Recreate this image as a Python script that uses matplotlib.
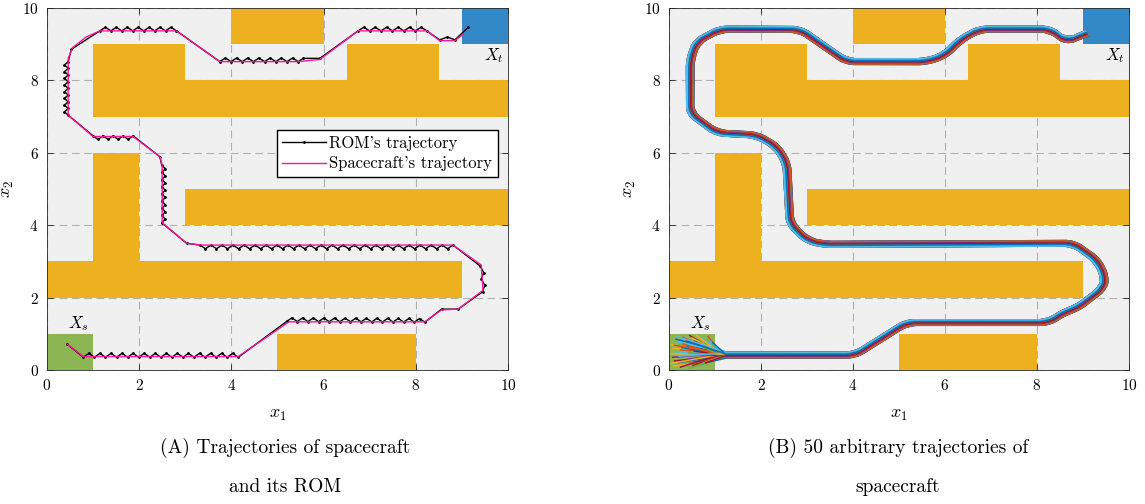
import numpy as np
import matplotlib
matplotlib.use("Agg")
import matplotlib.pyplot as plt
from matplotlib.patches import Rectangle

plt.rcParams['font.family'] = 'serif'
plt.rcParams['font.serif'] = ['cmr10']
plt.rcParams['mathtext.fontset'] = 'cm'
plt.rcParams['axes.formatter.use_mathtext'] = True

# obstacles: x0, x1, y0, y1
obs_x0 = [4, 1, 3, 6.5, 1, 0, 3, 5]
obs_x1 = [6, 3, 10, 8.5, 2, 9, 10, 8]
obs_y0 = [9, 7, 7, 8, 2, 2, 4, 0]
obs_y1 = [10, 9, 8, 9, 6, 3, 5, 1]

# spacecraft trajectory (left panel)
sc_x = [0.43, 0.79, 4.15, 5.25, 8.20, 8.56, 8.92, 9.46, 9.42, 8.81, 3.35, 3.03,
        2.50, 2.50, 2.45, 1.87, 1.00, 0.46, 0.46, 0.55, 0.85, 1.15, 2.81, 3.75,
        5.45, 5.92, 6.75, 8.24, 8.52, 8.85, 9.03]
sc_y = [0.72, 0.37, 0.37, 1.33, 1.33, 1.66, 1.68, 2.20, 2.90, 3.45, 3.45, 3.50,
        4.07, 5.66, 5.89, 6.45, 6.45, 7.04, 8.60, 8.90, 9.20, 9.37, 9.37, 8.52,
        8.52, 8.58, 9.37, 9.37, 9.10, 9.10, 9.28]

# ROM trajectory legs: start, number of teeth, tooth offset
rom_x0 = [0.43, 0.79, 4.15, 5.20, 8.20, 8.56, 8.92, 9.45, 9.40, 8.81, 3.32, 3.03, 2.49, 2.49, 2.45, 1.87, 1.00, 0.46, 0.46, 0.53, 1.15, 2.81, 3.75, 5.45, 5.56, 5.92, 6.75, 8.24, 8.52, 8.85]
rom_y0 = [0.72, 0.35, 0.35, 1.34, 1.32, 1.68, 1.68, 2.16, 2.87, 3.45, 3.45, 3.50, 4.07, 5.66, 5.89, 6.47, 6.47, 7.04, 8.52, 8.86, 9.37, 9.37, 8.52, 8.52, 8.61, 8.61, 9.37, 9.37, 9.12, 9.12]
rom_teeth = [0, 14, 0, 13, 0, 0, 0, 2, 0, 23, 0, 0, 8, 0, 0, 4, 0, 8, 0, 0, 7, 0, 7, 0, 0, 0, 6, 0, 1, 0]
rom_dx = [0, 0, 0, 0, 0, 0, 0, 0.06, 0, 0, 0, 0, 0.08, 0, 0, 0, 0, -0.08, 0, 0, 0, 0, 0, 0, 0, 0, 0, 0, 0, 0]
rom_dy = [0, 0.11, 0, 0.10, 0, 0, 0, 0, 0, -0.10, 0, 0, 0, 0, 0, -0.10, 0, 0, 0, 0, 0.10, 0, 0.10, 0, 0, 0, 0.10, 0, 0.08, 0]
rom_end = (9.14, 9.47)

# bundle centreline for the 50 runs (right panel)
bx = [1.25, 4.04, 5.17, 8.25, 8.61, 8.86, 9.44, 9.48, 9.30, 8.79, 3.35, 2.99, 2.63,
      2.56, 2.34, 1.91, 1.04, 0.46, 0.46, 0.60, 1.11, 2.85, 3.86, 5.60, 6.00, 6.33,
      6.76, 8.28, 8.64, 9.08]
by = [0.41, 0.41, 1.31, 1.31, 1.61, 1.70, 2.26, 2.58, 3.04, 3.50, 3.47, 3.59, 4.05,
      5.71, 6.17, 6.49, 6.55, 7.09, 8.56, 9.07, 9.42, 9.41, 8.52, 8.52, 8.70, 9.12,
      9.42, 9.42, 9.07, 9.30]
run_offset = [0.07, -0.04, 0.01, 0.08, -0.07, 0.03, -0.01, 0.05, -0.08, 0.00,
              0.04, -0.05, 0.07, -0.03, 0.01, 0.08, -0.06, 0.02, -0.04, 0.05,
              -0.08, 0.00, 0.04, -0.02, 0.06, -0.05, 0.02, 0.08, -0.03, 0.01,
              -0.07, 0.05, -0.04, 0.00, 0.06, -0.08, 0.03, -0.01, 0.04, -0.06,
              0.08, -0.02, 0.01, -0.07, 0.05, -0.03, 0.00, 0.06, -0.01, 0.03]
run_sx = [0.15, 0.30, 0.08, 0.55, 0.22, 0.70, 0.12, 0.40, 0.85, 0.05,
          0.35, 0.62, 0.18, 0.48, 0.90, 0.25, 0.10, 0.58, 0.78, 0.32,
          0.45, 0.20, 0.68, 0.05, 0.38, 0.82, 0.15, 0.52, 0.28, 0.72,
          0.60, 0.08, 0.42, 0.88, 0.25, 0.65, 0.12, 0.50, 0.35, 0.75,
          0.18, 0.55, 0.95, 0.30, 0.05, 0.62, 0.44, 0.22, 0.80, 0.40]
run_sy = [0.85, 0.90, 0.60, 0.80, 0.70, 0.88, 0.25, 0.65, 0.92, 0.45,
          0.15, 0.72, 0.78, 0.30, 0.55, 0.55, 0.10, 0.60, 0.75, 0.40,
          0.95, 0.20, 0.35, 0.70, 0.82, 0.85, 0.50, 0.12, 0.62, 0.25,
          0.95, 0.35, 0.48, 0.80, 0.08, 0.15, 0.68, 0.88, 0.28, 0.62,
          0.92, 0.52, 0.75, 0.72, 0.18, 0.42, 0.05, 0.38, 0.20, 0.78]

mat_colors = ['#0072BD', '#D95319', '#EDB120', '#7E2F8E', '#77AC30', '#4DBEEE', '#A2142F']


def rom_path():
    xs, ys = [], []
    for i in range(len(rom_x0)):
        x0, y0 = rom_x0[i], rom_y0[i]
        if i + 1 < len(rom_x0):
            x1, y1 = rom_x0[i + 1], rom_y0[i + 1]
        else:
            x1, y1 = rom_end
        n = rom_teeth[i]
        if n == 0:
            xs.append(x0)
            ys.append(y0)
            continue
        for k in range(2 * n):
            t = k / (2 * n)
            xs.append(x0 + (x1 - x0) * t + (rom_dx[i] if k % 2 else 0))
            ys.append(y0 + (y1 - y0) * t + (rom_dy[i] if k % 2 else 0))
    xs.append(rom_end[0])
    ys.append(rom_end[1])
    return xs, ys


def offset_path(x, y, d):
    p = np.column_stack([x, y]).astype(float)
    seg = np.diff(p, axis=0)
    seg /= np.linalg.norm(seg, axis=1)[:, None]
    nrm = np.column_stack([-seg[:, 1], seg[:, 0]])
    vn = np.vstack([nrm[:1], nrm[:-1] + nrm[1:], nrm[-1:]])
    vn /= np.linalg.norm(vn, axis=1)[:, None]
    return p + d * vn


def cut_corners(p, r):
    # chamfer every inner vertex by a fixed distance r
    out = [p[0]]
    for i in range(1, len(p) - 1):
        a = p[i] - p[i - 1]
        b = p[i + 1] - p[i]
        la, lb = np.linalg.norm(a), np.linalg.norm(b)
        out.append(p[i] - a / la * min(r, 0.45 * la))
        out.append(p[i] + b / lb * min(r, 0.45 * lb))
    out.append(p[-1])
    return np.array(out)


def draw_map(ax):
    ax.set_facecolor('#F0F0F0')
    for x0, x1, y0, y1 in zip(obs_x0, obs_x1, obs_y0, obs_y1):
        ax.add_patch(Rectangle((x0, y0), x1 - x0, y1 - y0, color='#EDB120', lw=0, zorder=2))
    ax.add_patch(Rectangle((0, 0), 1, 1, color='#8CB554', lw=0, zorder=2))
    ax.add_patch(Rectangle((9, 9), 1, 1, color='#3388C8', lw=0, zorder=2))
    ax.text(0.68, 1.28, r'$X_s$', fontsize=12, ha='center', va='center', zorder=5)
    ax.text(9.7, 8.68, r'$X_t$', fontsize=12, ha='center', va='center', zorder=5)
    ax.set_xlim(0, 10)
    ax.set_ylim(0, 10)
    ax.set_xticks([0, 2, 4, 6, 8, 10])
    ax.set_yticks([0, 2, 4, 6, 8, 10])
    ax.grid(True, ls=(0, (7, 4)), color='#B0B0B0', lw=0.8, zorder=1)
    ax.set_axisbelow(True)
    ax.tick_params(direction='in', length=4, width=0.6, top=True, right=True,
                   labelsize=11, color='#262626', pad=6)
    for s in ax.spines.values():
        s.set_color('#262626')
        s.set_linewidth(0.6)
    ax.set_xlabel(r'$x_1$', fontsize=13)
    ax.xaxis.set_label_coords(0.5, -0.105)
    ax.set_ylabel(r'$x_2$', fontsize=13)
    ax.yaxis.set_label_coords(-0.068, 0.5)


fig = plt.figure(figsize=(11.45, 5.04), dpi=100)
ax1 = fig.add_axes([0.041, 0.266, 0.4026, 0.718])
ax2 = fig.add_axes([0.5843, 0.266, 0.4017, 0.718])

# left: ROM and spacecraft
draw_map(ax1)
rx, ry = rom_path()
ax1.plot(rx, ry, color='k', lw=1.0, marker='.', ms=2, zorder=3, label="ROM's trajectory")
ax1.plot(sc_x, sc_y, color='#F5169C', lw=1.0, zorder=4, label="Spacecraft's trajectory")
ax1.legend(loc='upper right', bbox_to_anchor=(0.978, 0.663), fontsize=12,
           fancybox=False, edgecolor='k', framealpha=1, borderpad=0.35,
           handlelength=2.6, handletextpad=0.2, borderaxespad=0, labelspacing=0.3)

# right: 50 runs
draw_map(ax2)
for i, d in enumerate(run_offset):
    p = cut_corners(cut_corners(offset_path(bx, by, d), 0.12), 0.05)
    xs = np.concatenate([[run_sx[i]], p[:, 0]])
    ys = np.concatenate([[run_sy[i]], p[:, 1]])
    ax2.plot(xs, ys, color=mat_colors[i % 7], lw=1.1, zorder=3)

fig.text(0.249, 0.112, '(A) Trajectories of spacecraft', fontsize=14, ha='center', va='center')
fig.text(0.249, 0.033, 'and its ROM', fontsize=14, ha='center', va='center')
fig.text(0.784, 0.112, '(B) 50 arbitrary trajectories of', fontsize=14, ha='center', va='center')
fig.text(0.784, 0.033, 'spacecraft', fontsize=14, ha='center', va='center')

fig.savefig('out.png', dpi=100)
